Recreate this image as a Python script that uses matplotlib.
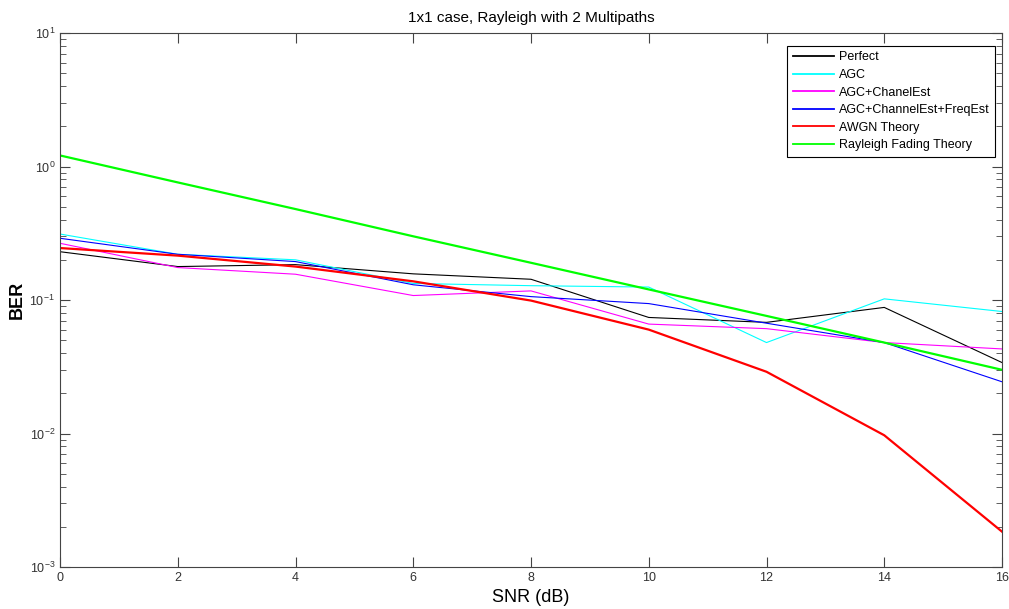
import matplotlib
matplotlib.use("Agg")
import matplotlib.pyplot as plt
from matplotlib.ticker import LogLocator, NullFormatter

snr_db = [0, 2, 4, 6, 8, 10, 12, 14, 16]

ber_perfect = [0.230, 0.178, 0.184, 0.157, 0.143, 0.074, 0.068, 0.088, 0.034]
ber_agc = [0.312, 0.220, 0.200, 0.133, 0.128, 0.125, 0.048, 0.102, 0.082]
ber_agc_chan = [0.266, 0.175, 0.156, 0.108, 0.117, 0.066, 0.061, 0.048, 0.043]
ber_agc_chan_freq = [0.290, 0.220, 0.194, 0.130, 0.106, 0.094, 0.067, 0.048, 0.0244]
ber_awgn = [0.245, 0.215, 0.178, 0.138, 0.099, 0.060, 0.029, 0.0097, 0.00184]
ber_rayleigh = [1.21, 0.76, 0.48, 0.30, 0.19, 0.12, 0.076, 0.048, 0.030]

series = [
    ("Perfect", ber_perfect, "#000000", 0.8),
    ("AGC", ber_agc, "#00ffff", 0.8),
    ("AGC+ChanelEst", ber_agc_chan, "#ff00ff", 0.8),
    ("AGC+ChannelEst+FreqEst", ber_agc_chan_freq, "#0000ff", 0.8),
    ("AWGN Theory", ber_awgn, "#ff0000", 1.6),
    ("Rayleigh Fading Theory", ber_rayleigh, "#00ff00", 1.6),
]

plt.rcParams["font.family"] = ["Liberation Sans", "DejaVu Sans"]
plt.rcParams["axes.unicode_minus"] = False

fig = plt.figure(figsize=(10.09, 6.09), dpi=100)
ax = fig.add_axes([60 / 1009, 42 / 609, 942 / 1009, 534 / 609])

for name, values, color, width in series:
    ax.semilogy(snr_db, values, color=color, linewidth=width, label=name)

ax.set_xlim(0, 16)
ax.set_ylim(1e-3, 1e1)
ax.set_xticks(snr_db)
ax.yaxis.set_major_locator(LogLocator(base=10, numticks=10))
ax.yaxis.set_minor_locator(LogLocator(base=10, subs=range(2, 10), numticks=10))
ax.yaxis.set_minor_formatter(NullFormatter())

ax.tick_params(which="both", direction="in", top=True, right=True,
               labelsize=9, labelcolor="#333333", color="#444444")
ax.tick_params(which="major", length=7)
ax.tick_params(which="minor", length=4)
for spine in ax.spines.values():
    spine.set_color("#444444")
    spine.set_linewidth(0.8)

ax.set_title("1x1 case, Rayleigh with 2 Multipaths", fontsize=11, pad=8)
ax.set_xlabel("SNR (dB)", fontsize=13, labelpad=4)
ax.set_ylabel("BER", fontsize=13, fontweight="bold", labelpad=3)

leg = ax.legend(loc="upper right", fontsize=9, fancybox=False,
                edgecolor="black", framealpha=1, handlelength=3.3,
                handletextpad=0.4, labelspacing=0.45, borderpad=0.45,
                bbox_to_anchor=(0.9995, 0.988))
leg.get_frame().set_linewidth(0.8)
for line in leg.get_lines():
    line.set_linewidth(1.3)

fig.savefig("out.png", dpi=100)
